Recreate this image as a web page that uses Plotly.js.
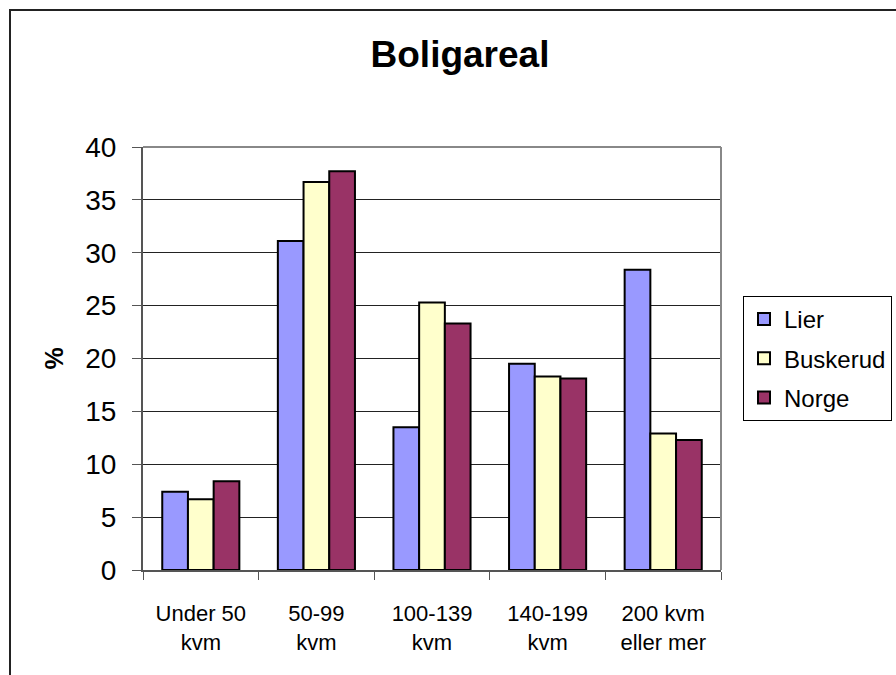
<!DOCTYPE html>
<html>
<head>
<meta charset="utf-8">
<script src="https://cdn.plot.ly/plotly-3.0.1.min.js"></script>
<style>
  html, body { margin: 0; padding: 0; background: #fff; }
  #chart { width: 896px; height: 675px; }
</style>
</head>
<body>
<div id="chart"></div>
<script>
const categories = ["Under 50<br>kvm", "50-99<br>kvm", "100-139<br>kvm", "140-199<br>kvm", "200 kvm<br>eller mer"];
const lier = [7.4, 31.1, 13.5, 19.5, 28.4];
const buskerud = [6.7, 36.7, 25.3, 18.3, 12.9];
const norge = [8.4, 37.7, 23.3, 18.1, 12.3];
const seriesNames = ["Lier", "Buskerud", "Norge"];
const seriesColors = ["#9999FF", "#FFFFCC", "#993366"];
const yTicks = [0, 5, 10, 15, 20, 25, 30, 35, 40];

const font = "Liberation Sans, Arial, sans-serif";
const seriesData = [lier, buskerud, norge];
const traces = seriesData.map((vals, i) => ({
  type: "bar",
  name: seriesNames[i],
  legendgroup: "g" + i,
  x: categories,
  y: vals,
  marker: { color: seriesColors[i], line: { color: "#000000", width: 2 } },
  hoverinfo: "skip"
}));

// plot area in px: x 143..721, y 147..570
const L = 143, R = 721, T = 147, B = 570, W = 896, H = 675;
const pw = R - L, ph = B - T;
const px = v => (v - L) / pw;
const py = v => (B - v) / ph;

const layout = {
  width: W, height: H,
  margin: { l: L, r: W - R, t: T, b: H - B, pad: 0, autoexpand: false },
  paper_bgcolor: "#ffffff",
  plot_bgcolor: "#ffffff",
  font: { family: font, color: "#000000" },
  showlegend: true,
  barmode: "group",
  bargap: 0.333,
  bargroupgap: 0,
  title: {
    text: "<b>Boligareal</b>",
    font: { family: font, size: 37, color: "#000000" },
    x: 460 / W, xref: "container", xanchor: "center",
    y: 1 - 54 / H, yref: "container", yanchor: "middle"
  },
  xaxis: {
    type: "category",
    tickson: "boundaries",
    ticks: "outside", ticklen: 8, tickcolor: "#555555", tickwidth: 1,
    showline: true, linecolor: "#555555", linewidth: 2,
    showgrid: false,
    tickfont: { family: font, size: 22, color: "#000000" },
    ticklabelstandoff: 23,
    automargin: false,
    fixedrange: true
  },
  yaxis: {
    range: [0, 40],
    tickvals: yTicks,
    ticktext: yTicks.map(String),
    ticks: "outside", ticklen: 9, tickcolor: "#555555", tickwidth: 1,
    showline: true, linecolor: "#555555", linewidth: 2,
    showgrid: true, gridcolor: "#222222", gridwidth: 1,
    zeroline: false,
    tickfont: { family: font, size: 28, color: "#000000" },
    ticklabelstandoff: 10,
    automargin: false,
    title: { text: "<b>%</b>", font: { family: font, size: 25, color: "#000000" }, standoff: 14 },
    fixedrange: true
  },
  legend: {
    x: px(743), xanchor: "left",
    y: py(296), yanchor: "top",
    bgcolor: "#ffffff",
    bordercolor: "#000000", borderwidth: 1,
    font: { family: font, size: 24, color: "#000000" },
    itemwidth: 30,
    traceorder: "grouped",
    tracegroupgap: 5
  },
  shapes: [
    { type: "line", xref: "paper", yref: "paper", x0: 0, x1: 1, y0: 1, y1: 1,
      line: { color: "#888888", width: 2 } },
    { type: "line", xref: "paper", yref: "paper", x0: 1, x1: 1, y0: 0, y1: 1,
      line: { color: "#888888", width: 2 } },
    { type: "rect", xref: "paper", yref: "paper",
      x0: px(10), x1: px(905), y0: py(685), y1: py(10),
      line: { color: "#222222", width: 2 }, layer: "below" }
  ]
};

Plotly.newPlot("chart", traces, layout, { staticPlot: true, displayModeBar: false });
</script>
</body>
</html>
